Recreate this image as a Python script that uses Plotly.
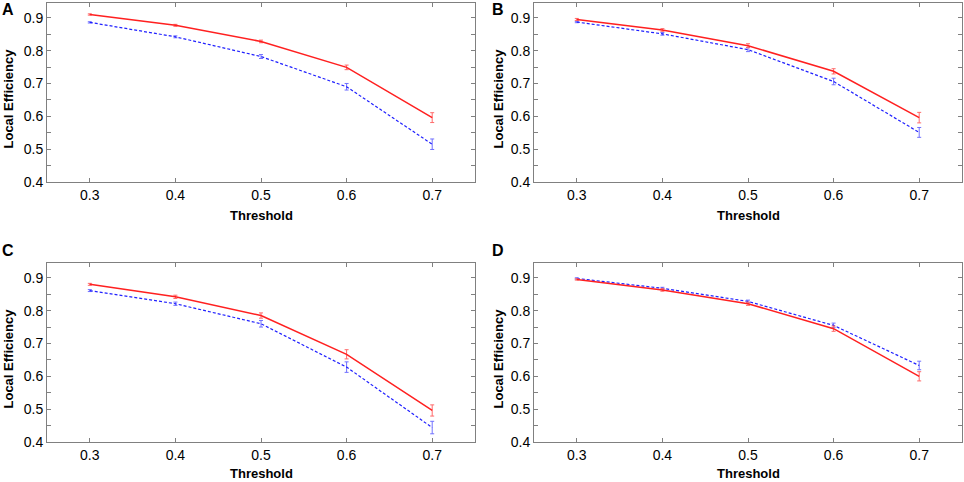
import plotly.graph_objects as go

thresholds = [0.3, 0.4, 0.5, 0.6, 0.7]

# Panel A
a_red = [0.910, 0.877, 0.828, 0.749, 0.596]
a_red_err = [0.002, 0.003, 0.004, 0.007, 0.015]
a_blue = [0.886, 0.842, 0.782, 0.690, 0.515]
a_blue_err = [0.002, 0.003, 0.006, 0.010, 0.016]
# Panel B
b_red = [0.895, 0.863, 0.815, 0.737, 0.596]
b_red_err = [0.003, 0.004, 0.006, 0.008, 0.016]
b_blue = [0.887, 0.851, 0.803, 0.706, 0.551]
b_blue_err = [0.002, 0.004, 0.006, 0.010, 0.015]
# Panel C
c_red = [0.880, 0.842, 0.785, 0.667, 0.496]
c_red_err = [0.003, 0.005, 0.008, 0.014, 0.017]
c_blue = [0.861, 0.821, 0.760, 0.628, 0.444]
c_blue_err = [0.003, 0.005, 0.010, 0.016, 0.019]
# Panel D
d_red = [0.895, 0.863, 0.821, 0.745, 0.600]
d_red_err = [0.002, 0.004, 0.005, 0.008, 0.014]
d_blue = [0.898, 0.868, 0.828, 0.755, 0.633]
d_blue_err = [0.002, 0.003, 0.004, 0.007, 0.013]

panel_labels = ["A", "B", "C", "D"]
x_title = "Threshold"
y_title = "Local Efficiency"

panels = [
    (a_red, a_red_err, a_blue, a_blue_err),
    (b_red, b_red_err, b_blue, b_blue_err),
    (c_red, c_red_err, c_blue, c_blue_err),
    (d_red, d_red_err, d_blue, d_blue_err),
]

W, H = 964, 482
# pixel boxes (left, right, top, bottom)
boxes = [(47, 475, 3, 182), (534, 962, 3, 182), (47, 475, 263, 442), (534, 962, 263, 442)]

fig = go.Figure()
FONT = "Liberation Sans, Arial, Helvetica, sans-serif"
axis_common = dict(showline=True, linecolor="#808080", linewidth=1, mirror="ticks",
                   ticks="inside", ticklen=4, tickcolor="#808080", showgrid=False,
                   zeroline=False, automargin=False,
                   tickfont=dict(family=FONT, size=14, color="black"))


def px_x(v):
    return v / W


def px_y(v):
    return 1 - v / H


for i, (red, rerr, blue, berr) in enumerate(panels):
    n = "" if i == 0 else str(i + 1)
    xa, ya = "x" + n, "y" + n
    fig.add_trace(go.Scatter(x=thresholds, y=blue, mode="lines", xaxis=xa, yaxis=ya,
                             line=dict(color="#2020ff", width=1.2, dash="3px,2px"),
                             error_y=dict(type="data", array=berr, color="#7070ff",
                                          thickness=1, width=2),
                             showlegend=False))
    fig.add_trace(go.Scatter(x=thresholds, y=red, mode="lines", xaxis=xa, yaxis=ya,
                             line=dict(color="#ff2020", width=1.5),
                             error_y=dict(type="data", array=rerr, color="#ff6a6a",
                                          thickness=1, width=2),
                             showlegend=False))
    l, r, t, b = boxes[i]
    fig.layout["xaxis" + n] = dict(domain=[px_x(l), px_x(r)], anchor=ya, range=[0.25, 0.75],
                                   tickvals=[0.3, 0.4, 0.5, 0.6, 0.7],
                                   ticktext=["0.3", "0.4", "0.5", "0.6", "0.7"], **axis_common)
    fig.layout["yaxis" + n] = dict(domain=[px_y(b), px_y(t)], anchor=xa, range=[0.4, 0.945],
                                   tickvals=[0.4, 0.5, 0.6, 0.7, 0.8, 0.9],
                                   ticktext=["0.4", "0.5", "0.6", "0.7", "0.8", "0.9"],
                                   minor=dict(tickvals=[0.45, 0.55, 0.65, 0.75, 0.85, 0.95],
                                              ticks="inside", ticklen=4, tickcolor="#808080"),
                                   **axis_common)
    lx = l - 39 if i % 2 == 0 else l - 36
    top_letter = 9 if i < 2 else 250
    xt_off = 34 if i < 2 else 31
    # panel letter
    fig.add_annotation(x=px_x(lx), y=px_y(top_letter), xref="paper", yref="paper",
                       xanchor="center", yanchor="middle",
                       text="<b>" + panel_labels[i] + "</b>", showarrow=False,
                       font=dict(family=FONT, size=16, color="black"))
    # x title
    fig.add_annotation(x=px_x((l + r) / 2), y=px_y(b + xt_off), xref="paper", yref="paper",
                       xanchor="center", yanchor="middle",
                       text="<b>" + x_title + "</b>", showarrow=False,
                       font=dict(family=FONT, size=13, color="black"))
    # y title
    fig.add_annotation(x=px_x(lx), y=px_y((t + b) / 2 + 6), xref="paper", yref="paper",
                       xanchor="center", yanchor="middle",
                       text="<b>" + y_title + "</b>", showarrow=False, textangle=-90,
                       font=dict(family=FONT, size=13, color="black"))

fig.update_layout(template="none", width=W, height=H, margin=dict(l=0, r=0, t=0, b=0),
                  paper_bgcolor="white", plot_bgcolor="white",
                  font=dict(family=FONT, color="black"))
fig.write_html("out.html", config={"displayModeBar": False},
               post_script="document.body.style.margin='0';document.body.style.overflow='hidden';")
